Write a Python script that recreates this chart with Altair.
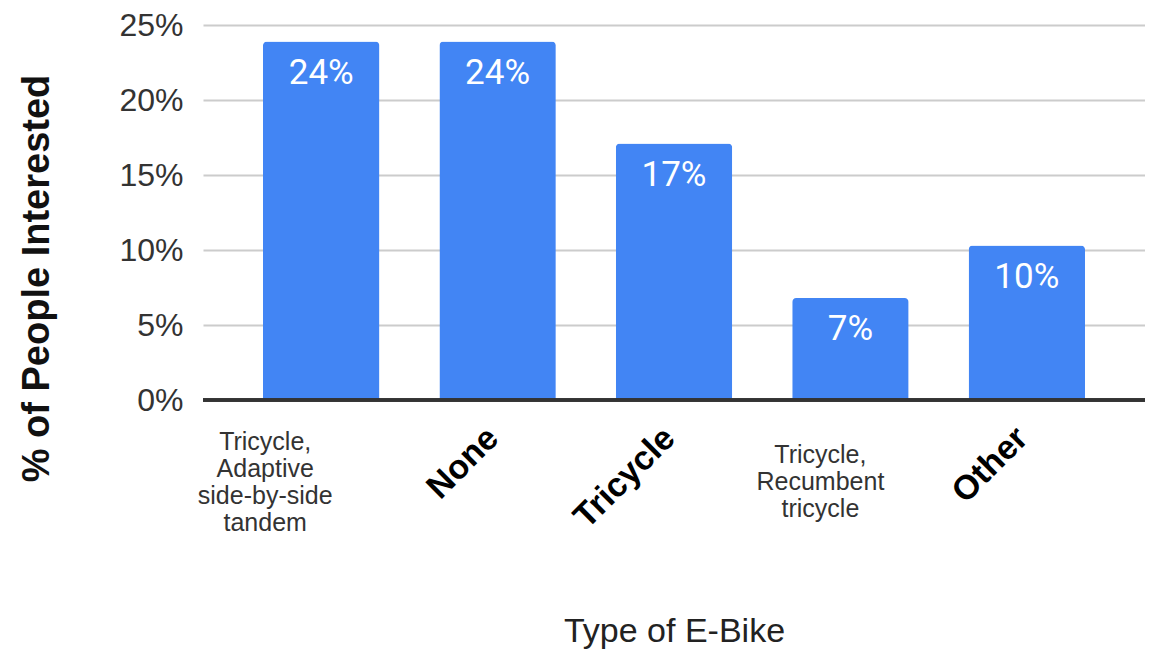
import altair as alt
import pandas as pd

categories = [
    "Tricycle, Adaptive side-by-side tandem",
    "None",
    "Tricycle",
    "Tricycle, Recumbent tricycle",
    "Other",
]
display_labels = [
    "Tricycle,\nAdaptive\nside-by-side\ntandem",
    "None",
    "Tricycle",
    "Tricycle,\nRecumbent\ntricycle",
    "Other",
]
values = [0.239, 0.239, 0.171, 0.068, 0.103]
y_ticks = [0, 0.05, 0.10, 0.15, 0.20, 0.25]

df = pd.DataFrame({"cat": categories, "label": display_labels, "value": values})
df["nlines"] = df["label"].str.count("\n") + 1

W, H = 942, 375
TOP = 17  # page y of plot top = 8 + TOP

x_enc = alt.X(
    "cat:N",
    sort=categories,
    scale=alt.Scale(paddingInner=0.34, paddingOuter=0.34),
    axis=alt.Axis(
        labels=False, ticks=False, domain=False, grid=False,
        title="Type of E-Bike", titleFont="Liberation Sans", titleFontSize=34,
        titleFontWeight="normal", titleColor="#222222",
        titleY=231, titleBaseline="middle",
    ),
)
y_enc = alt.Y(
    "value:Q",
    scale=alt.Scale(domain=[0, 0.25], nice=False),
    axis=alt.Axis(
        values=y_ticks, format=".0%", ticks=False, tickSize=0, domain=False,
        grid=True, gridColor="#cccccc", gridWidth=2,
        labelFont="Liberation Sans", labelFontSize=32, labelColor="#333333",
        labelPadding=20,
        title="% of People Interested", titleFont="Liberation Sans",
        titleFontSize=38, titleFontWeight="bold", titleColor="#111111",
        titleX=-166, titleY=253, titleBaseline="middle", titleAlign="center",
    ),
)

base = alt.Chart(df)

bars = base.mark_bar(color="#4285F4", cornerRadiusTopLeft=4, cornerRadiusTopRight=4).encode(
    x=x_enc, y=y_enc
)

bar_text = base.mark_text(
    font="Roboto", fontSize=35, color="white", baseline="top", dy=14
).encode(
    x=alt.X("cat:N", sort=categories),
    y="value:Q",
    text=alt.Text("value:Q", format=".0%"),
)

baseline = alt.Chart(df).mark_rule(color="#333333", strokeWidth=3).encode(
    y=alt.datum(0)
)

# wrapped (multi-line) labels: block centred vertically around one line
LH = 27
WRAP_CENTER = 482 - 8 - TOP  # relative to plot top
wrap_dx = {4: -56, 3: -30}
wrap_layers = []
for n in sorted(df.loc[df["nlines"] > 1, "nlines"].unique()):
    n = int(n)
    wrap_layers.append(
        base.transform_filter(f"datum.nlines == {n}").mark_text(
            font="Liberation Sans", fontSize=25, color="#333333", lineBreak="\n",
            lineHeight=LH, align="center", baseline="middle", dx=wrap_dx.get(n, -43),
        ).encode(
            x=alt.X("cat:N", sort=categories),
            y=alt.value(WRAP_CENTER - (n - 1) * LH / 2),
            text="label:N",
        )
    )

rot_labels = base.transform_filter("datum.nlines == 1").mark_text(
    font="Liberation Sans", fontSize=34, fontWeight="bold", color="#000000",
    angle=315, align="right", baseline="middle", dx=-6,
).encode(
    x=alt.X("cat:N", sort=categories),
    y=alt.value(429 - 8 - TOP),
    text="label:N",
)

chart = alt.layer(bars, baseline, bar_text, *wrap_layers, rot_labels).properties(
    width=W, height=H,
    autosize=alt.AutoSizeParams(type="none"),
    padding={"left": 195, "top": TOP, "right": 0, "bottom": 250},
    background="white",
).configure_view(stroke=None)

chart.save("out.html", embed_options={"renderer": "svg", "actions": False})
